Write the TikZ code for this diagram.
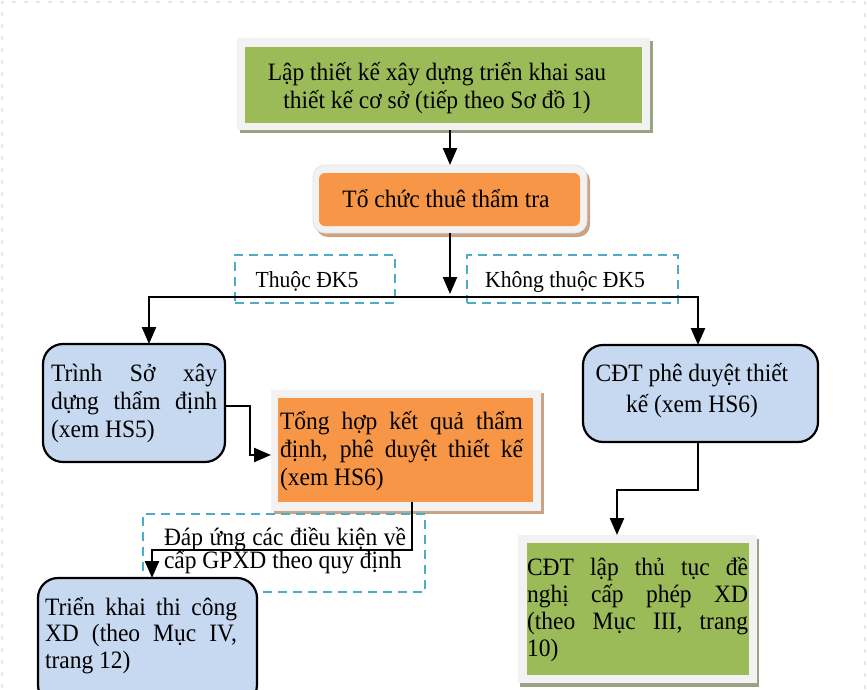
\documentclass[tikz,border=0pt]{standalone}
\usepackage{fontspec}
\setmainfont[FakeStretch=0.94]{Liberation Serif}
\usetikzlibrary{arrows.meta}

\definecolor{boxgreen}{HTML}{9BBB59}
\definecolor{boxorange}{HTML}{F79646}
\definecolor{boxblue}{HTML}{C6D9F1}
\definecolor{tagcyan}{HTML}{4BACC6}
\definecolor{framegray}{HTML}{F2F2F2}
\definecolor{frameedge}{HTML}{E2E2E2}
\definecolor{shadowolive}{HTML}{9AA383}
\definecolor{shadowtan}{HTML}{C9A385}
\definecolor{pageedge}{HTML}{E6E6E6}

% justified paragraph whose first baseline is the box baseline
\newcommand{\flowpar}[2]{\parbox[t]{#1}{\hyphenpenalty=10000\exhyphenpenalty=10000\tolerance=10000 #2}}

\tikzset{
  x=1pt, y=-1pt,
  every node/.style={inner sep=0pt, outer sep=0pt},
  sz/.style 2 args={minimum width=#1pt, minimum height=#2pt},
  body/.style={font=\fontsize{25}{28}\selectfont},
  shadowgreen/.style={fill=shadowolive},
  shadoworange/.style={fill=shadowtan},
  frame/.style={fill=framegray},
  greenbox/.style={fill=boxgreen},
  orangebox/.style={fill=boxorange},
  bluebox/.style={fill=boxblue, draw=black, line width=2.2pt, rounded corners=20pt},
  tag/.style={draw=tagcyan, line width=2pt, dash pattern=on 9pt off 6pt},
  conn/.style={line width=2.4pt, line join=miter, -{Triangle[width=14pt,length=17pt]}},
}

\begin{document}
\begin{tikzpicture}
\useasboundingbox (0,0) rectangle (867,690);
\clip (0,0) rectangle (867,690);

% faint page edge
\draw[pageedge, line width=2pt, dash pattern=on 4pt off 8pt] (2,700) -- (2,2) -- (865,2) -- (865,700);

% top box
\node[sz={413}{92}, shadowgreen] (topS) at (446.5,87) {};
\node[sz={413}{92}, frame] (topF) at (443.5,84) {};
\node[sz={397}{76}, greenbox] (top) at (443.5,85) {};

% hiring the review organisation
\node[sz={274}{68}, shadoworange, rounded corners=12pt] (orgS) at (453,203) {};
\node[sz={274}{68}, fill=framegray, draw=frameedge, line width=0.8pt, rounded corners=12pt] (orgF) at (450,199) {};
\node[sz={261}{53}, orangebox, rounded corners=6pt] (org) at (449.5,199.5) {};

% summary of review results
\node[sz={270}{121}, shadoworange] (hopS) at (409,453.5) {};
\node[sz={270}{121}, frame] (hopF) at (406,450.5) {};
\node[sz={255}{104}, orangebox] (hop) at (405.5,450) {};

% permit application box
\node[sz={239}{148}, shadowgreen] (cdtlS) at (639.5,613) {};
\node[sz={239}{148}, frame] (cdtlF) at (637.5,609) {};
\node[sz={222}{132}, greenbox] (cdtl) at (638,609) {};

% dashed condition tags
\node[sz={160}{48}, tag] (thuoc) at (315,279) {};
\node[sz={211}{48}, tag] (khong) at (572.5,279) {};
\node[sz={282}{78}, tag] (dapung) at (284,553) {};

% rounded blue steps
\node[sz={182}{118}, bluebox] (trinh) at (134,403) {};
\node[sz={235}{97}, bluebox] (cdt) at (700.5,393.5) {};
\node[sz={219}{127}, bluebox] (trienkhai) at (147.5,641.5) {};

% texts
\node[body, anchor=base] (topT) at (437,81)
  {\parbox[t]{400pt}{\centering Lập thiết kế xây dựng triển khai sau\\thiết kế cơ sở (tiếp theo Sơ đồ 1)}};
\node[body, anchor=base] (orgT) at (446,207) {Tổ chức thuê thẩm tra};
\node[font=\fontsize{23}{25}\selectfont, anchor=base] (thuocT) at (307,287) {Thuộc ĐK5};
\node[font=\fontsize{23}{25}\selectfont, anchor=base] (khongT) at (565,287) {Không thuộc ĐK5};
\node[body, anchor=base west] (trinhT) at (51,381)
  {\flowpar{166pt}{Trình Sở xây\linebreak dựng thẩm định\linebreak (xem HS5)}};
\node[body, anchor=base west] (hopT) at (280,429)
  {\flowpar{243pt}{Tổng hợp kết quả thẩm\linebreak định, phê duyệt thiết kế\linebreak (xem HS6)}};
\node[font=\fontsize{25}{31}\selectfont, anchor=base] (cdtT) at (692,381)
  {\parbox[t]{240pt}{\centering CĐT phê duyệt thiết\\kế (xem HS6)}};
\node[font=\fontsize{25}{23.5}\selectfont, anchor=base west] (dapungT) at (164,545)
  {\flowpar{242pt}{Đáp ứng các điều kiện về\linebreak cấp GPXD theo quy định}};
\node[font=\fontsize{25}{26.5}\selectfont, anchor=base west] (trienkhaiT) at (45,615)
  {\flowpar{192pt}{Triển khai thi công\linebreak XD (theo Mục IV,\linebreak trang 12)}};
\node[font=\fontsize{25}{27.3}\selectfont, anchor=base west] (cdtlT) at (527,575)
  {\flowpar{221pt}{CĐT lập thủ tục đề\linebreak nghị cấp phép XD\linebreak (theo Mục III, trang\linebreak 10)}};

% connectors
\coordinate (j) at (450,297);
\draw[conn] ([xshift=6.5pt]topF.south) -- (orgF.north);
\draw[conn] (orgF.south) -- ([yshift=3pt]j);
\draw[conn] (j) -| ([xshift=15pt]trinh.north);
\draw[conn] (j) -| ([xshift=-2.5pt]cdt.north);
\draw[conn] ([yshift=-3pt]trinh.east) -- ++(25,0) |- ([yshift=-4.5pt]hopF.west);
\draw[conn] ([xshift=6.5pt]hop.south) -- ++(0,48) -| ([xshift=4.5pt]trienkhai.north);
\draw[conn] ([xshift=-2.5pt]cdt.south) -- ++(0,48) -| ([xshift=-20.5pt]cdtlF.north);
\end{tikzpicture}
\end{document}
